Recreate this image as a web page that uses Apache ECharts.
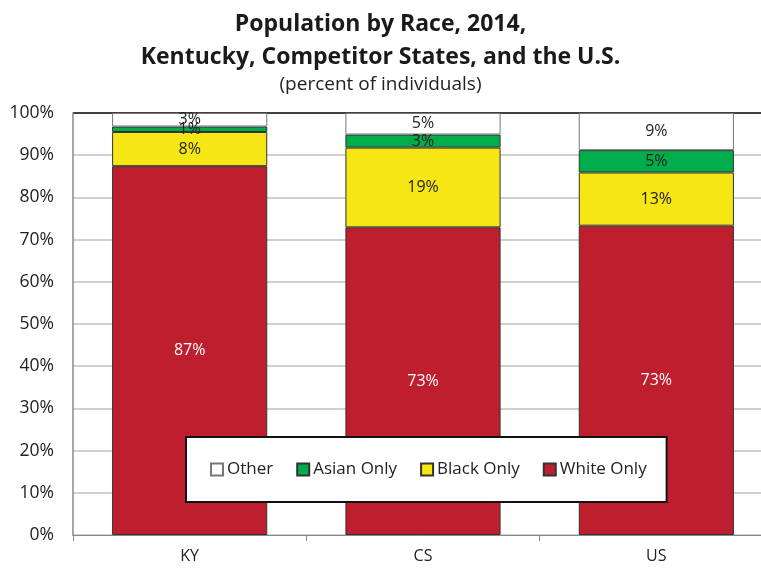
<!DOCTYPE html>
<html><head><meta charset="utf-8">
<script src="https://cdn.jsdelivr.net/npm/echarts@6/dist/echarts.min.js"></script>
<style>html,body{margin:0;padding:0;background:#fff}#c{width:761px;height:571px}</style>
</head><body><div id="c"></div>
<script>
const categories = ['KY', 'CS', 'US'];
const whiteOnly = [87.4, 72.9, 73.3];
const blackOnly = [8.1, 18.9, 12.6];
const asianOnly = [1.3, 3.1, 5.3];
const other = [3.2, 5.1, 8.8];
const yTicks = [0, 10, 20, 30, 40, 50, 60, 70, 80, 90, 100];

const FONT = 'Open Sans';
const chart = echarts.init(document.getElementById('c'), null, {renderer: 'canvas'});
function lbl(color) {
  return {show: true, position: 'inside', color: color, fontFamily: FONT, fontSize: 16,
    formatter: p => Math.round(p.value) + '%'};
}
function ser(name, data, color, border, labelColor) {
  return {name, type: 'bar', stack: 'a', data, barWidth: '66.5%',
    itemStyle: {color, borderColor: border, borderWidth: 1},
    label: lbl(labelColor), emphasis: {disabled: true}};
}
const gridColors = yTicks.map((t, i) => i === yTicks.length - 1 ? '#000' : '#c0c0c0');
chart.setOption({
  animation: false,
  title: [
    {text: 'Population by Race, 2014,\nKentucky, Competitor States, and the U.S.', left: 'center', top: 3,
      textStyle: {fontFamily: FONT, fontWeight: 'bold', fontSize: 23, color: '#1a1a1a', lineHeight: 33}},
    {text: '(percent of individuals)', left: 'center', top: 70,
      textStyle: {fontFamily: FONT, fontWeight: 'normal', fontSize: 19, color: '#222'}}
  ],
  grid: {left: 73, width: 700, top: 113, bottom: 36, outerBoundsMode: 'none', containLabel: false},
  legend: {
    data: ['Other', 'Asian Only', 'Black Only', 'White Only'],
    left: 186, top: 437, padding: [24, 20, 24, 24], itemGap: 23,
    itemWidth: 12, itemHeight: 12, icon: 'rect',
    backgroundColor: '#fff', borderColor: '#111', borderWidth: 2,
    textStyle: {fontFamily: FONT, fontSize: 17, color: '#222', padding: [0, 0, 0, -1]}
  },
  xAxis: {type: 'category', data: categories,
    axisLine: {lineStyle: {color: '#888', width: 1}},
    axisTick: {show: true, length: 6, lineStyle: {color: '#888'}},
    axisLabel: {fontFamily: FONT, fontSize: 16, color: '#222', margin: 13}},
  yAxis: {type: 'value', min: 0, max: 100, interval: 10,
    axisLine: {show: true, lineStyle: {color: '#888', width: 1.5}},
    axisTick: {show: false},
    splitLine: {lineStyle: {color: gridColors, width: 1.5}},
    axisLabel: {fontFamily: FONT, fontSize: 17.5, color: '#222', margin: 19, formatter: v => v + '%'}},
  series: [
    ser('White Only', whiteOnly, '#be1e2d', '#333', '#fff'),
    ser('Black Only', blackOnly, '#f5e614', '#333', '#222'),
    ser('Asian Only', asianOnly, '#00ad4c', '#333', '#222'),
    ser('Other', other, '#ffffff', '#777', '#222')
  ]
});
</script></body></html>
